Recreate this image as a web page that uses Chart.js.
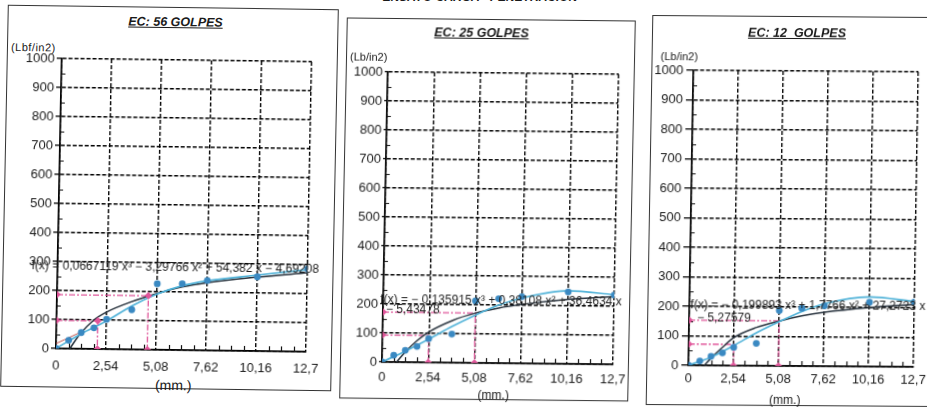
<!DOCTYPE html>
<html>
<head>
<meta charset="utf-8">
<script src="https://cdn.jsdelivr.net/npm/chart.js@4.4.0/dist/chart.umd.min.js"></script>
<style>
  body { margin: 0; width: 927px; height: 407px; overflow: hidden; background: #fff; position: relative;
         font-family: 'Liberation Sans', Arial, sans-serif; color: #1a1a1a; }
  .sheet { position: absolute; left: 0; top: 0; width: 927px; height: 407px; }
  .panel { position: absolute; border: 1.6px solid #333; box-sizing: border-box; }
  .title { position: absolute; font-weight: bold; font-style: italic; font-size: 12.5px; line-height: 14px;
           text-decoration: underline; white-space: nowrap; transform: translateX(-50%); }
  .unit { position: absolute; font-size: 11px; line-height: 12px; white-space: nowrap; }
  .mm { position: absolute; line-height: 14px; white-space: nowrap; transform: translateX(-50%); }
  .header { position: absolute; left: 480px; top: -9px; font-weight: bold; font-style: italic; font-size: 12px;
            line-height: 12px; white-space: nowrap; transform: translateX(-50%); }
  canvas { position: absolute; }
</style>
</head>
<body>

<div class="header">ENSAYO CARGA - PENETRACION</div>

<div class="sheet" style="transform: matrix(1, 0.013, -0.02, 1, 0, 0); transform-origin: 170px 198px;">
  <div class="panel" style="left:4px; top:7px; width:331px; height:382px;"></div>
  <div class="title" style="left:172px; top:15px;">EC: 56 GOLPES</div>
  <div class="unit" style="left:8px; top:43px; letter-spacing:0.5px;">(Lbf/in2)</div>
  <div class="mm" style="left:177px; top:378px; font-size:14px;">(mm.)</div>
  <canvas id="g56" width="345" height="400" style="left:0; top:0; width:345px; height:400px;"></canvas>
</div>

<div class="sheet" style="transform: matrix(1, 0.0105, -0.02, 1, 0, 0); transform-origin: 487px 210px;">
  <div class="panel" style="left:343px; top:19px; width:289px; height:381px;"></div>
  <div class="title" style="left:478px; top:26px;">EC: 25 GOLPES</div>
  <div class="unit" style="left:347px; top:52px;">(Lb/in2)</div>
  <div class="mm" style="left:497px; top:388px; font-size:12px;">(mm.)</div>
  <canvas id="g25" width="300" height="407" style="left:340px; top:0; width:300px; height:407px;"></canvas>
</div>

<div class="sheet" style="transform: matrix(1, 0.007, -0.017, 1, 0, 0); transform-origin: 790px 211px;">
  <div class="panel" style="left:649px; top:16px; width:310px; height:390px;"></div>
  <div class="title" style="left:794px; top:26px;">EC: 12&nbsp; GOLPES</div>
  <div class="unit" style="left:658px; top:51px;">(Lb/in2)</div>
  <div class="mm" style="left:788px; top:393px; font-size:12px;">(mm.)</div>
  <canvas id="g12" width="290" height="407" style="left:645px; top:0; width:290px; height:407px;"></canvas>
</div>

<script>
// ticks of the penetration axis (mm)
var xTicks = [0, 2.54, 5.08, 7.62, 10.16, 12.7];

// measured points: penetration (mm) and load (lb/in2)
var penetracion = [0, 0.64, 1.27, 1.91, 2.54, 3.81, 5.08, 6.35, 7.62, 10.16, 12.7];
var carga56 = [0, 29, 56, 73, 103, 137, 228, 229, 241, 256, 286];
var carga25 = [0, 24, 41, 55, 82, 99, 214, 222, 230, 248, 239];
var carga12 = [0, 15, 31, 43, 62, 76, 188, 196, 205, 218, 220];

// light blue fitted curve
var ajusteX = [0, 1.27, 2.54, 3.81, 5.08, 6.35, 7.62, 10.16, 12.7];
var ajuste56 = [0, 52, 97, 150, 192, 222, 240, 262, 283];
var ajuste25 = [0, 38, 80, 125, 165, 200, 225, 252, 240];
var ajuste12 = [0, 28, 68, 112, 150, 185, 212, 236, 222];

// dark curve
var curva56X = [0.7, 1.2, 1.9, 2.54, 3.81, 5.08, 6.35, 7.62, 10.16, 12.7];
var curva56Y = [0, 50, 100, 128, 165, 194, 218, 234, 255, 272];
var curva25X = [0.8, 1.27, 1.91, 2.54, 3.81, 5.08, 6.35, 7.62, 10.16, 12.7];
var curva25Y = [0, 35, 75, 105, 145, 172, 190, 203, 222, 234];
var curva12X = [0.9, 1.27, 1.91, 2.54, 3.81, 5.08, 6.35, 7.62, 10.16, 12.7];
var curva12Y = [0, 25, 62, 95, 130, 152, 170, 183, 200, 212];

// short reddish start segment in the first chart
var tramo56X = [0, 1.17];
var tramo56Y = [17, 55];

// corrected values (pink dash-dot lines)
var corr56X = [2.1, 4.64];
var corr56Y = [97, 186];
var corr25X = [2.54, 5.08];
var corr25Y = [93, 172];
var corr12X = [2.54, 5.08];
var corr12Y = [72, 153];

// regression equations shown on each chart
var ecuacion56 = ['f(x) = 0,0667119 x\u00b3 \u2212 3,29766 x\u00b2 + 54,382 x \u2212 4,69208'];
var ecuacion25 = ['f(x) = \u2212 0,135915 x\u00b3 + 0,38108 x\u00b2 + 36,4634 x', '\u2212 5,43478'];
var ecuacion12 = ['f(x) = \u2212 0,199893 x\u00b3 + 1,7766 x\u00b2 + 27,2723 x', '\u2212 5,27579'];

var AZUL = '#3a89c2';
var CELESTE = '#4fb2d8';
var OSCURO = '#26313c';
var ROSA = '#e0569a';
var FUENTE = "'Liberation Sans', Arial, sans-serif";

function pares(xs, ys) {
    return xs.map(function (x, i) { return { x: x, y: ys[i] }; });
}

// small tick marks between the major ones
var minorTicks = {
    id: 'minorTicks',
    beforeDatasetsDraw: function (chart) {
        var ctx = chart.ctx, x = chart.scales.x, y = chart.scales.y;
        ctx.save();
        ctx.strokeStyle = '#111';
        ctx.lineWidth = 1.2;
        ctx.beginPath();
        for (var i = 0; i < xTicks.length - 1; i++) {
            var paso = (xTicks[i + 1] - xTicks[i]) / 4;
            for (var k = 1; k < 4; k++) {
                var px = Math.round(x.getPixelForValue(xTicks[i] + k * paso)) + 0.5;
                ctx.moveTo(px, y.bottom);
                ctx.lineTo(px, y.bottom - 5);
            }
        }
        for (var v = 50; v < 1000; v += 100) {
            var py = Math.round(y.getPixelForValue(v)) + 0.5;
            ctx.moveTo(x.left, py);
            ctx.lineTo(x.left + 4, py);
        }
        ctx.stroke();
        ctx.restore();
    }
};

// equation text anchored in data units
var ecuacionTexto = {
    id: 'ecuacion',
    afterDatasetsDraw: function (chart, args, opts) {
        if (!opts.lineas) return;
        var ctx = chart.ctx, x = chart.scales.x, y = chart.scales.y;
        ctx.save();
        ctx.fillStyle = '#1e1e1e';
        ctx.font = '12px ' + FUENTE;
        ctx.textBaseline = 'middle';
        opts.lineas.forEach(function (t, i) {
            ctx.fillText(t, x.getPixelForValue(opts.pos[i][0]), y.getPixelForValue(opts.pos[i][1]));
        });
        ctx.restore();
    }
};

function crearGrafico(id, c) {
    var datasets = [
        { data: pares(penetracion, c.carga), pointRadius: 3.4, pointBackgroundColor: AZUL,
          pointBorderWidth: 0, showLine: false }
    ];
    var marcas = [];
    c.corrX.forEach(function (cx, i) {
        marcas.push({ x: 0, y: c.corrY[i] }, { x: cx, y: 0 });
        if (c.esquinas) marcas.push({ x: cx, y: c.corrY[i] });
    });
    datasets.push({ data: marcas, pointStyle: 'rectRot', pointRadius: 3.8,
                    pointBackgroundColor: ROSA, pointBorderWidth: 0, showLine: false });
    datasets.push({ data: pares(ajusteX, c.ajuste), showLine: true, borderColor: CELESTE,
                    borderWidth: 1.7, pointRadius: 0, cubicInterpolationMode: 'monotone' });
    datasets.push({ data: pares(c.curvaX, c.curvaY), showLine: true, borderColor: OSCURO,
                    borderWidth: 1.5, pointRadius: 0, cubicInterpolationMode: 'monotone' });
    if (c.tramoX) {
        datasets.push({ data: pares(c.tramoX, c.tramoY), showLine: true, borderColor: '#c2554f',
                        borderWidth: 1, pointRadius: 0 });
    }
    c.corrX.forEach(function (cx, i) {
        datasets.push({ data: [{ x: 0, y: c.corrY[i] }, { x: cx, y: c.corrY[i] }, { x: cx, y: 0 }],
                        showLine: true, borderColor: ROSA, borderWidth: 1.3,
                        borderDash: [6, 2, 2, 2], pointRadius: 0, tension: 0 });
    });

    new Chart(document.getElementById(id), {
        type: 'scatter',
        data: { datasets: datasets },
        options: {
            responsive: false,
            animation: false,
            layout: { padding: c.padding },
            plugins: {
                legend: { display: false },
                tooltip: { enabled: false },
                ecuacion: { lineas: c.ecuacion, pos: c.ecPos }
            },
            scales: {
                x: {
                    type: 'linear', min: 0, max: 12.7,
                    afterBuildTicks: function (s) { s.ticks = xTicks.map(function (v) { return { value: v }; }); },
                    afterFit: function (s) { s.height = c.xHeight; },
                    ticks: { autoSkip: false, maxRotation: 0, padding: c.xPad, color: '#1a1a1a',
                             font: { family: FUENTE, size: 13 },
                             callback: function (v) { return String(v).replace('.', ','); } },
                    grid: { color: '#000', lineWidth: 1.4, drawTicks: false },
                    border: { color: '#000', width: 1.7, dash: [4, 2] }
                },
                y: {
                    min: 0, max: 1000,
                    afterFit: function (s) { s.width = c.yWidth; },
                    ticks: { stepSize: 100, padding: c.yPad, color: '#1a1a1a',
                             font: { family: FUENTE, size: 13 },
                             callback: function (v) { return String(v); } },
                    grid: { color: '#000', lineWidth: 1.4, tickLength: c.yTick, tickColor: '#000',
                            tickWidth: 1.3, tickBorderDash: [] },
                    border: { color: '#000', width: 1.7, dash: [4, 2] }
                }
            }
        },
        plugins: [minorTicks, ecuacionTexto]
    });
}

crearGrafico('g56', {
    carga: carga56, ajuste: ajuste56, curvaX: curva56X, curvaY: curva56Y,
    tramoX: tramo56X, tramoY: tramo56Y, corrX: corr56X, corrY: corr56Y, esquinas: true,
    ecuacion: ecuacion56, ecPos: [[-1.32, 283]],
    padding: { top: 60, right: 36, bottom: 10, left: 0 },
    yWidth: 59, xHeight: 40, xPad: 10, yTick: 5, yPad: 2
});

crearGrafico('g25', {
    carga: carga25, ajuste: ajuste25, curvaX: curva25X, curvaY: curva25Y,
    corrX: corr25X, corrY: corr25Y,
    ecuacion: ecuacion25, ecPos: [[-0.16, 214], [0.16, 179]],
    padding: { top: 73, right: 24, bottom: 4, left: 0 },
    yWidth: 45, xHeight: 40, xPad: 8, yTick: 3, yPad: 2
});

crearGrafico('g12', {
    carga: carga12, ajuste: ajuste12, curvaX: curva12X, curvaY: curva12Y,
    corrX: corr12X, corrY: corr12Y,
    ecuacion: ecuacion12, ecPos: [[0.06, 203], [0.45, 159]],
    padding: { top: 71, right: 19, bottom: 3, left: 0 },
    yWidth: 46, xHeight: 38, xPad: 6, yTick: 7, yPad: 3
});
</script>
</body>
</html>
